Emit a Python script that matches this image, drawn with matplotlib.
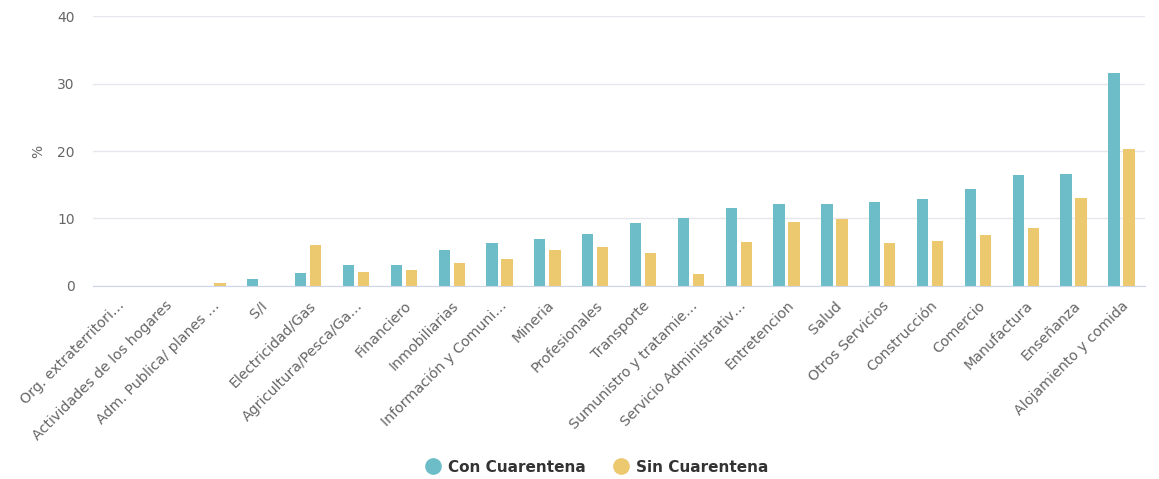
import matplotlib
matplotlib.use("Agg")
import matplotlib.pyplot as plt
import numpy as np
from matplotlib.lines import Line2D

categories = ["Org. extraterritori…", "Actividades de los hogares", "Adm. Publica/ planes …", "S/I",
              "Electricidad/Gas", "Agricultura/Pesca/Ga…", "Financiero", "Inmobiliarias",
              "Información y Comuni…", "Mineria", "Profesionales", "Transporte",
              "Sumunistro y tratamie…", "Servicio Administrativ…", "Entretencion", "Salud",
              "Otros Servicios", "Construcción", "Comercio", "Manufactura", "Enseñanza",
              "Alojamiento y comida"]
con_cuarentena = [0, 0, 0, 1.1, 1.9, 3.1, 3.1, 5.3, 6.4, 7.0, 7.7, 9.4, 10.0, 11.5,
                  12.1, 12.1, 12.5, 12.9, 14.4, 16.4, 16.6, 31.6]
sin_cuarentena = [0, 0, 0.4, 0, 6.1, 2.0, 2.4, 3.4, 4.0, 5.3, 5.8, 4.9, 1.8, 6.5,
                  9.5, 9.9, 6.3, 6.7, 7.5, 8.6, 13.1, 20.3]
series_names = ["Con Cuarentena", "Sin Cuarentena"]
yticks = [0, 10, 20, 30, 40]

teal = "#6cbdc8"
yellow = "#ecc86e"
txt = "#666666"

fig = plt.figure(figsize=(11.59, 4.79), dpi=100)
ax = fig.add_axes([0.0802, 0.403, 0.908, 0.5634])
x = np.arange(len(categories))
w = 0.235
off = 0.157
ax.bar(x - off, con_cuarentena, width=w, color=teal, zorder=3)
ax.bar(x + off, sin_cuarentena, width=w, color=yellow, zorder=3)

ax.set_xlim(-0.5, len(categories) - 0.5)
ax.set_ylim(0, 40)
ax.set_yticks(yticks)
ax.set_yticklabels([str(v) for v in yticks], fontsize=10, color=txt)
ax.yaxis.grid(True, color="#e6e6ee", linewidth=1, zorder=0)
ax.tick_params(axis="y", length=0, pad=13)
for s in ["top", "right", "left"]:
    ax.spines[s].set_visible(False)
ax.spines["bottom"].set_color("#ccd6eb")
ax.spines["bottom"].set_zorder(4)
ax.set_xticks(x)
ax.set_xticklabels(categories, rotation=45, ha="right", rotation_mode="anchor",
                   fontsize=10.3, color=txt)
ax.tick_params(axis="x", length=0, pad=9)
ax.set_ylabel("%", fontsize=10, color=txt, labelpad=9)

handles = [Line2D([0], [0], marker="o", linestyle="", markersize=11, color=c) for c in (teal, yellow)]
leg = fig.legend(handles, series_names, loc="center", bbox_to_anchor=(0.515, 0.025),
                 ncol=2, frameon=False, handlelength=1.0, handletextpad=0.5,
                 columnspacing=1.8, prop={"size": 11, "weight": "bold"})
for t in leg.get_texts():
    t.set_color("#333333")

fig.savefig("out.png", dpi=100)
